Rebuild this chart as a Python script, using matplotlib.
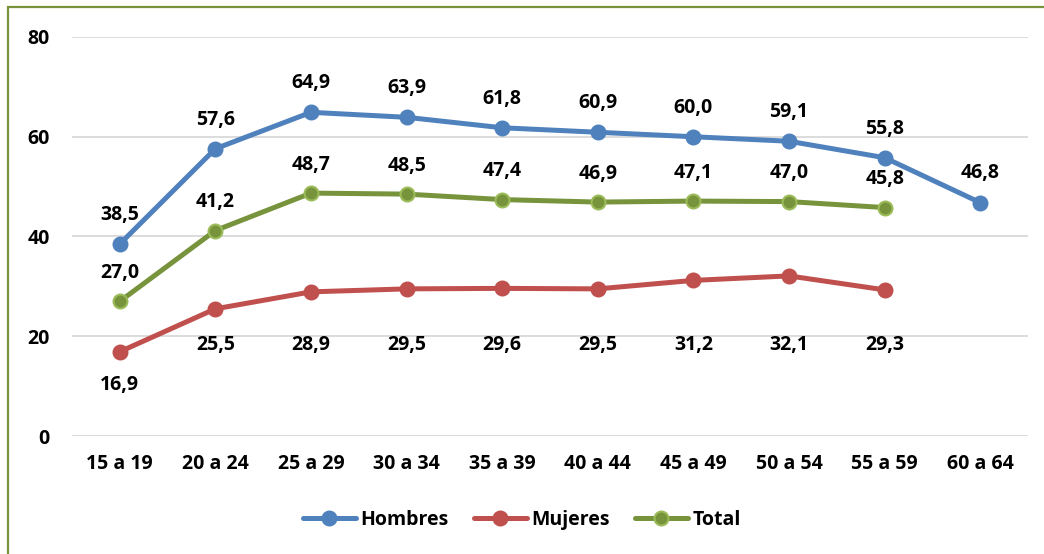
import matplotlib.pyplot as plt
from matplotlib.patches import Rectangle

categorias = ['15 a 19', '20 a 24', '25 a 29', '30 a 34', '35 a 39',
              '40 a 44', '45 a 49', '50 a 54', '55 a 59', '60 a 64']
hombres = [38.5, 57.6, 64.9, 63.9, 61.8, 60.9, 60.0, 59.1, 55.8, 46.8]
mujeres = [16.9, 25.5, 28.9, 29.5, 29.6, 29.5, 31.2, 32.1, 29.3]
total = [27.0, 41.2, 48.7, 48.5, 47.4, 46.9, 47.1, 47.0, 45.8]

plt.rcParams['font.family'] = ['Open Sans', 'DejaVu Sans']
plt.rcParams['font.weight'] = 'bold'

fig = plt.figure(figsize=(10.44, 5.54), dpi=100)
ax = fig.add_axes([72 / 1044, 1 - 436 / 554, (1028 - 72) / 1044, (436 - 37) / 554])

# green frame, runs off the right and bottom edges
fig.patches.append(Rectangle((8 / 1044, -0.05), 1.1, 1.05 - 7 / 554,
                             transform=fig.transFigure, fill=False,
                             edgecolor='#77933C', linewidth=1.6))

def fmt(v):
    return f'{v:.1f}'.replace('.', ',')

series = [
    ('Hombres', hombres, '#4F81BD', '#4F81BD'),
    ('Mujeres', mujeres, '#C0504D', '#C0504D'),
    ('Total', total, '#77933C', '#9BBB59'),
]

for name, vals, col, edge in series:
    x = list(range(len(vals)))
    ax.plot(x, vals, color=col, linewidth=3.6, marker='o', markersize=10,
            markerfacecolor=col, markeredgecolor=edge, markeredgewidth=1.5,
            label=name, solid_capstyle='round', zorder=3)

for xi, v in enumerate(hombres):
    ax.annotate(fmt(v), (xi, v), xytext=(0, 21), textcoords='offset points',
                ha='center', va='center', fontsize=14, fontweight='bold')
for xi, v in enumerate(total):
    ax.annotate(fmt(v), (xi, v), xytext=(0, 20.5), textcoords='offset points',
                ha='center', va='center', fontsize=14, fontweight='bold')
for xi, v in enumerate(mujeres):
    ax.text(xi, min(v - 6.7, 18.25), fmt(v), ha='center', va='center',
            fontsize=14, fontweight='bold')

ax.set_xlim(-0.5, len(categorias) - 0.5)
ax.set_ylim(0, 80)
ax.set_yticks([0, 20, 40, 60, 80])
ax.set_xticks(range(len(categorias)))
ax.set_xticklabels(categorias)
ax.tick_params(length=0, labelsize=14, pad=13)
ax.tick_params(axis='y', pad=16)
for lab in ax.get_xticklabels() + ax.get_yticklabels():
    lab.set_fontweight('bold')
ax.grid(axis='y', color='#D9D9D9', linewidth=1.3)
ax.set_axisbelow(True)
for s in ax.spines.values():
    s.set_visible(False)

leg = fig.legend(loc='center', bbox_to_anchor=(0.5, 1 - 520 / 554), ncol=3,
                 frameon=False, fontsize=14, handlelength=2.7, columnspacing=1.3,
                 handletextpad=0.25)
for t in leg.get_texts():
    t.set_fontweight('bold')

fig.savefig('out.png', dpi=100)
